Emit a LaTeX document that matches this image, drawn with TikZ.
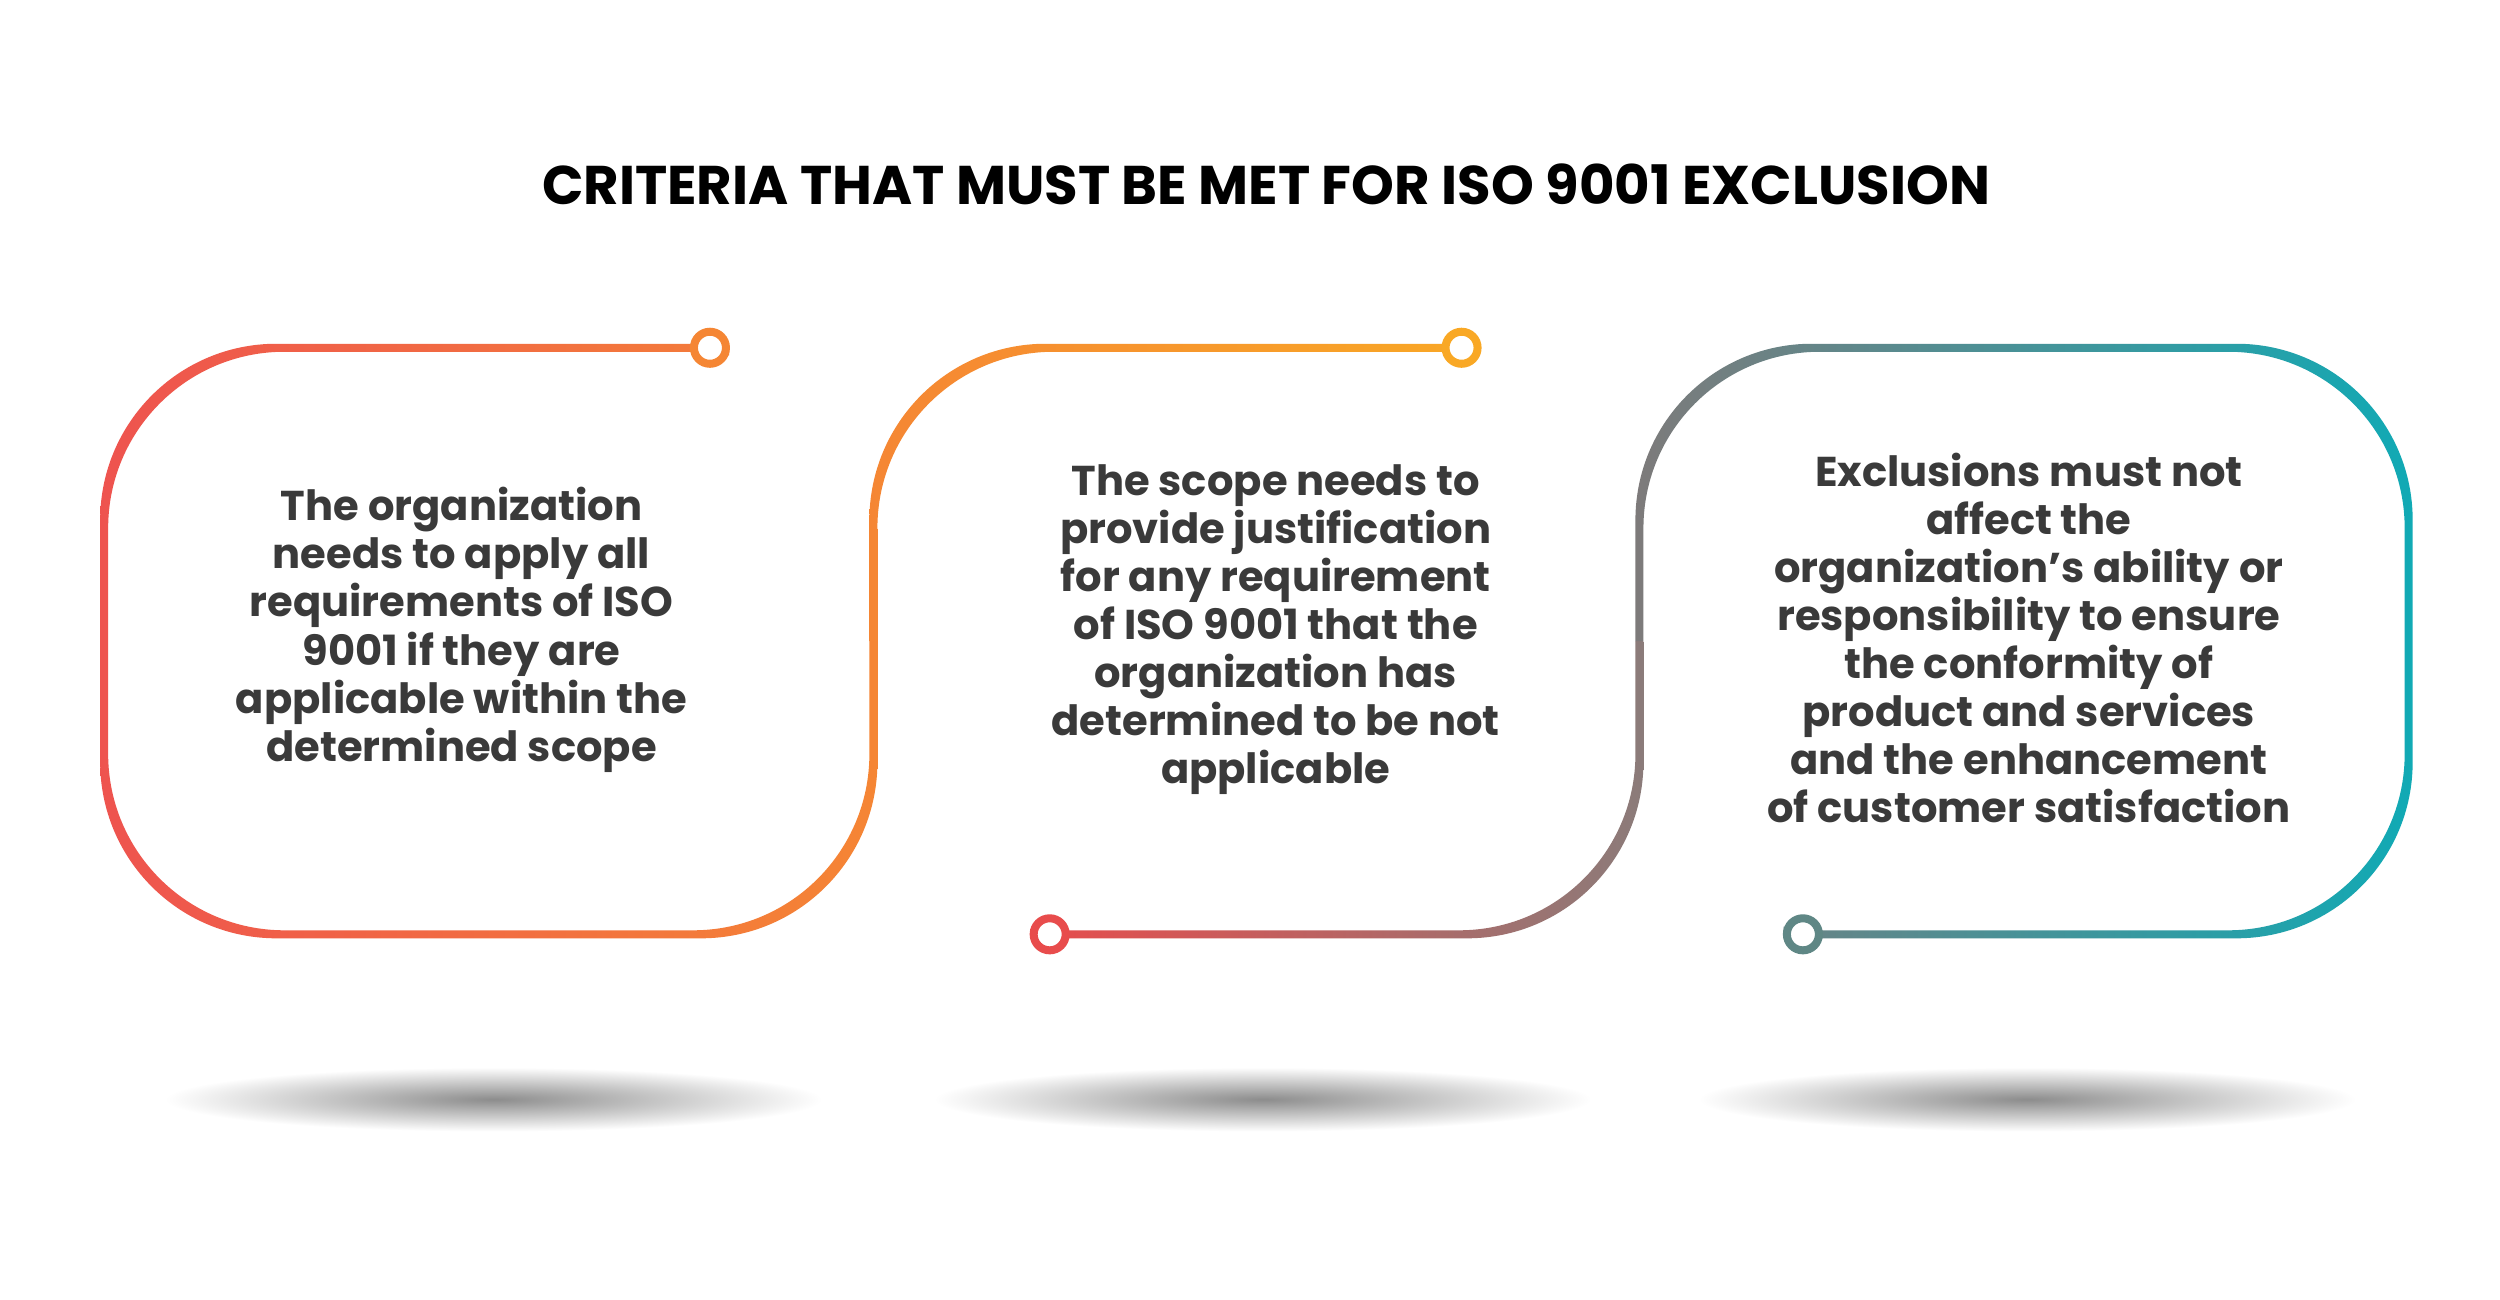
\documentclass[tikz,border=0pt]{standalone}
\usepackage{fontspec}
\setmainfont{Poppins}
\definecolor{txt}{HTML}{3A3A3A}
\definecolor{cA}{HTML}{EE534F}
\definecolor{cB}{HTML}{F58634}
\definecolor{cC}{HTML}{F9A825}
\definecolor{cD}{HTML}{E84C4C}
\definecolor{cE}{HTML}{8A7C7A}
\definecolor{cF}{HTML}{7E7A7A}
\definecolor{cG}{HTML}{10AAB5}
\definecolor{cH}{HTML}{5F8785}
\tikzset{
  body/.style={align=center,text=txt,font=\fontsize{26}{30}\selectfont\bfseries},
  dot/.style={circle,draw=#1,fill=white,line width=5pt,minimum size=20pt,inner sep=0pt},
  ringclip/.style={rounded corners=110pt,even odd rule},
}
\newcommand{\ring}[4]{% x1 y1 x2 y2
  \clip (#1-2.5,#2-2.5) rectangle (#3+2.5,#4+2.5)
    (#1+2.5,#2+2.5) rectangle (#3-2.5,#4-2.5);}
\begin{document}
\begin{tikzpicture}[x=1pt,y=-1pt]
\useasboundingbox[fill=white] (0,0) rectangle (1560,811);
% shadows
\foreach \cx in {308,788,1265}{
  \shade[inner color=black!45,outer color=white] (\cx,686) ellipse (205 and 20);
}
% title
\node[font=\fontsize{34}{40}\selectfont\bfseries] (title) at (790,115) {CRITERIA THAT MUST BE MET FOR ISO 9001 EXCLUSION};
% box1
\begin{scope}
\clip (0,0) -- (455,0) -- (455,330) -- (600,330) -- (600,700) -- (0,700) -- cycle;
\begin{scope}[ringclip]
\ring{65}{217}{545}{583}
\shade[sharp corners,left color=cA,right color=cB] (60,200) rectangle (550,600);
\end{scope}
\end{scope}
% box2 top
\begin{scope}
\clip (500,0) -- (924,0) -- (924,330) -- (1100,330) -- (1100,400) -- (500,400) -- cycle;
\begin{scope}[ringclip]
\ring{545}{217}{1023}{583}
\shade[sharp corners,left color=cB,right color=cC] (540,200) rectangle (924,600);
\end{scope}
\end{scope}
% box2 bottom
\begin{scope}
\clip (643,400) rectangle (1100,700);
\begin{scope}[ringclip]
\ring{545}{217}{1023}{583}
\shade[sharp corners,left color=cD,right color=cE] (643,200) rectangle (1028,600);
\end{scope}
\end{scope}
% box3
\begin{scope}
\clip (1000,0) -- (1600,0) -- (1600,700) -- (1113,700) -- (1113,400) -- (1000,400) -- cycle;
\begin{scope}[ringclip]
\ring{1023}{217}{1503}{583}
\shade[sharp corners,left color=cF,right color=cG] (1018,200) rectangle (1508,600);
\end{scope}
\end{scope}
% dots
\node[dot=cB] (d1) at (443,217) {};
\node[dot=cC] (d2) at (912,217) {};
\node[dot=cD] (d3) at (655,583) {};
\node[dot=cH] (d4) at (1125,583) {};
% texts
\node[body] (t1) at (288,393) {The organization\\needs to apply all\\requirements of ISO\\9001 if they are\\applicable within the\\determined scope};
\node[body] (t2) at (796,393) {The scope needs to\\provide justification\\for any requirement\\of ISO 9001 that the\\organization has\\determined to be not\\applicable};
\node[body] (t3) at (1266,398) {Exclusions must not\\affect the\\organization’s ability or\\responsibility to ensure\\the conformity of\\product and services\\and the enhancement\\of customer satisfaction};
\end{tikzpicture}
\end{document}
